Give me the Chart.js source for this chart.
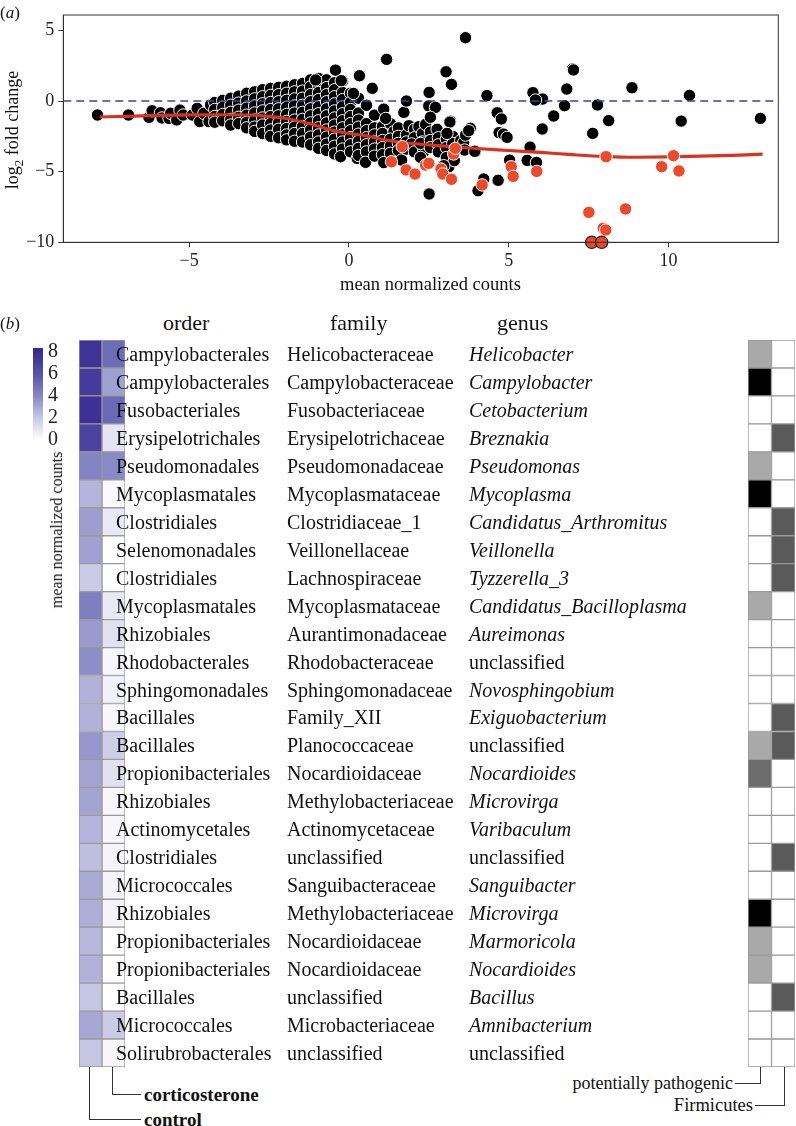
<!DOCTYPE html>
<html>
<head>
<meta charset="utf-8">
<script src="https://cdn.jsdelivr.net/npm/chart.js@4.4.1/dist/chart.umd.min.js"></script>
<style>
  body { margin: 0; background: #fff; font-family: "Liberation Serif", "DejaVu Serif", serif; color: #111; }
  #page { position: relative; width: 796px; height: 1126px; overflow: hidden; }
  canvas { position: absolute; }
  .txt { position: absolute; white-space: nowrap; line-height: 1; transform: translateY(-50%); }
  .cell { font-size: 20px; }
  .hdr { font-size: 22px; }
  .brk { position: absolute; border-color: #333; border-style: solid; border-width: 0; }
</style>
</head>
<body>
<div id="page">
  <canvas id="maChart" width="796" height="300" style="left:0;top:0"></canvas>
  <canvas id="barKey" width="44" height="126" style="left:33px;top:331px"></canvas>
  <canvas id="abundance" width="46" height="727" style="left:79px;top:340px"></canvas>
  <canvas id="traits" width="47" height="727" style="left:748px;top:340px"></canvas>
  <div id="labels"></div>
</div>
<script>
// ---- panel (a): MA plot ----
const xTicks = [-5, 0, 5, 10];
const yTicks = [-10, -5, 0, 5];

// non-significant taxa (log mean counts, log2 fold change)
const greyTaxa = [
  [-7.87,-0.99],[-6.9,-0.99],[-6.26,-1.15],[-6.16,-0.69],[-5.9,-0.83],[-5.85,-1.2],[-5.63,-1.23],[-5.58,-0.87],
  [-5.39,-1.34],[-5.29,-0.64],[-5.19,-0.99],[-4.9,-0.99],[-4.75,-0.52],[-4.67,-1.46],[-4.54,-0.87],[-4.38,-1.46],[-4.33,-0.28],
  [-4.2,-0.1],[-4.2,-0.6],[-4.2,-1.1],[-4.2,-1.5],
  [-3.95,0.05],[-3.95,-0.45],[-3.95,-0.95],[-3.95,-1.4],
  [-3.7,0.2],[-3.7,-0.3],[-3.7,-0.8],[-3.7,-1.3],[-3.7,-1.7],
  [-3.45,0.35],[-3.45,-0.15],[-3.45,-0.65],[-3.45,-1.15],[-3.45,-1.6],
  [-3.2,0.55],[-3.2,0.0],[-3.2,-0.5],[-3.2,-1.0],[-3.2,-1.5],[-3.2,-1.9],
  [-2.95,0.65],[-2.95,0.15],[-2.95,-0.35],[-2.95,-0.85],[-2.95,-1.35],[-2.95,-1.85],[-2.95,-2.15],
  [-2.7,0.8],[-2.7,0.3],[-2.7,-0.2],[-2.7,-0.7],[-2.7,-1.2],[-2.7,-1.7],[-2.7,-2.3],
  [-2.45,0.9],[-2.45,0.4],[-2.45,-0.1],[-2.45,-0.6],[-2.45,-1.1],[-2.45,-1.6],[-2.45,-2.05],[-2.45,-2.5],
  [-2.2,0.97],[-2.2,0.45],[-2.2,-0.05],[-2.2,-0.55],[-2.2,-1.05],[-2.2,-1.55],[-2.2,-2.0],[-2.2,-2.6],
  [-1.95,1.05],[-1.95,0.55],[-1.95,0.05],[-1.95,-0.45],[-1.95,-0.95],[-1.95,-1.45],[-1.95,-1.95],[-1.95,-2.4],[-1.95,-2.75],
  [-1.7,1.15],[-1.7,0.65],[-1.7,0.15],[-1.7,-0.35],[-1.7,-0.85],[-1.7,-1.35],[-1.7,-1.85],[-1.7,-2.3],[-1.7,-2.85],
  [-1.45,1.25],[-1.45,0.7],[-1.45,0.2],[-1.45,-0.3],[-1.45,-0.8],[-1.45,-1.3],[-1.45,-1.8],[-1.45,-2.3],[-1.45,-2.9],
  [-1.2,1.5],[-1.2,1.0],[-1.2,0.45],[-1.2,-0.05],[-1.2,-0.55],[-1.2,-1.05],[-1.2,-1.55],[-1.2,-2.05],[-1.2,-2.55],[-1.2,-3.1],
  [-0.95,1.6],[-0.95,1.1],[-0.95,0.6],[-0.95,0.1],[-0.95,-0.4],[-0.95,-0.9],[-0.95,-1.4],[-0.95,-1.9],[-0.95,-2.4],[-0.95,-2.9],[-0.95,-3.35],
  [-0.7,1.5],[-0.7,0.95],[-0.7,0.45],[-0.7,-0.05],[-0.7,-0.55],[-0.7,-1.05],[-0.7,-1.55],[-0.7,-2.05],[-0.7,-2.55],[-0.7,-3.05],[-0.7,-3.5],
  [-0.45,1.3],[-0.45,0.8],[-0.45,0.3],[-0.45,-0.2],[-0.45,-0.7],[-0.45,-1.2],[-0.45,-1.7],[-0.45,-2.2],[-0.45,-2.7],[-0.45,-3.2],[-0.45,-3.75],
  [-0.2,1.4],[-0.2,0.6],[-0.2,0.1],[-0.2,-0.4],[-0.2,-0.9],[-0.2,-1.4],[-0.2,-1.9],[-0.2,-2.4],[-0.2,-2.9],[-0.2,-3.4],[-0.26,-3.94],
  [0.05,0.55],[0.05,-0.1],[0.05,-0.6],[0.05,-1.1],[0.05,-1.6],[0.05,-2.1],[0.05,-2.6],[0.05,-3.1],[0.05,-3.6],[0.26,-4.06],
  [0.3,0.2],[0.3,-0.85],[0.3,-1.35],[0.3,-1.85],[0.3,-2.35],[0.3,-2.85],[0.3,-3.35],[0.3,-3.85],
  [0.55,-0.3],[0.55,-1.6],[0.55,-2.1],[0.55,-2.6],[0.55,-3.1],[0.55,-3.6],[0.52,-4.34],
  [0.8,-1.0],[0.8,-1.9],[0.8,-2.4],[0.8,-2.9],[0.8,-3.4],[0.8,-3.9],
  [1.05,-1.8],[1.05,-2.3],[1.05,-2.8],[1.05,-3.3],[1.05,-3.8],[1.09,-4.36],
  [1.3,-1.6],[1.41,-2.17],[1.3,-2.7],[1.3,-3.2],[1.3,-3.7],
  [1.55,-1.9],[1.55,-2.5],[1.55,-3.0],[1.55,-3.5],[1.65,-4.18],
  [1.8,-2.4],[1.8,-2.9],[1.8,-3.4],[1.88,-1.75],
  [2.05,-2.0],[2.05,-2.6],[1.96,-3.04],[2.05,-3.6],
  [2.19,-1.82],[2.3,-2.3],[2.3,-2.9],[2.34,-3.58],[2.24,-3.99],[2.24,-3.0],
  [2.4,-1.65],[2.55,-2.2],[2.55,-2.8],[2.55,-3.3],
  [2.76,-2.0],[2.8,-2.6],[2.8,-3.1],[2.8,-3.6],
  [3.05,-2.7],[3.05,-3.3],[3.05,-4.0],[3.25,-2.5],[3.25,-3.0],[3.13,-4.65],[3.5,-2.8],[3.5,-3.4],
  [3.59,-2.95],[3.65,-2.41],[3.62,-3.47],[3.96,-3.58],
  [-0.42,2.19],[0.33,1.79],[-0.24,1.44],[-1.04,1.49],[0.73,0.9],[0.14,0.54],
  [1.09,-0.57],[1.15,-1.23],[1.72,-0.8],[1.8,0.0],[2.5,-0.35],[2.71,-0.45],[2.55,-1.15],[3.18,-1.42],
  [3.65,4.48],[1.18,2.95],[3.04,2.07],[3.21,1.18],[2.51,0.61],[4.32,0.38],[5.76,0.59],[6.06,0.14],[5.84,0.07],
  [7.0,2.27],[7.03,2.2],[6.82,0.85],[6.75,-0.33],[6.41,-1.06],[6.05,-1.98],[7.78,-0.28],[8.13,-1.39],[7.63,-2.29],
  [8.86,0.94],[10.4,-1.42],[10.66,0.4],[12.88,-1.23],[4.64,-0.83],[4.77,-1.27],[4.7,-2.24],[4.84,-2.34],[4.95,-2.57],
  [5.03,-4.18],[5.58,-4.2],[5.87,-4.34],[5.67,-3.26],[4.67,-5.61],[4.04,-6.35],[4.22,-5.52],[2.51,-6.58],
  [3.8,-1.93],[3.75,-2.1],[3.94,-3.56],[3.16,-1.49],[3.07,-2.29],[3.3,-4.22],[2.97,-4.58]
];

// significant taxa
const redTaxa = [
  [1.33,-4.3],[1.67,-3.23],[1.79,-4.88],[2.07,-5.17],[2.4,-4.53],[2.5,-4.41],[2.88,-4.81],[2.94,-5.17],
  [3.21,-5.54],[3.28,-3.75],[3.33,-3.35],[4.17,-5.94],[5.08,-4.65],[5.14,-5.33],[5.88,-4.98],
  [7.51,-7.88],[7.96,-9.01],[8.04,-9.13],[8.66,-7.64],[8.05,-3.94],[9.79,-4.65],[10.16,-3.87],[10.33,-4.95]
];
// significant taxa clipped at the lower limit
const clippedTaxa = [[7.6,-10],[7.91,-10]];

// loess trend
const trendX = [-7.8,-7,-6,-5,-4,-3,-2.5,-2,-1.5,-1,-0.5,0,0.5,1,1.6,2.5,3.2,4,5,6,7,8,9,10,11,12,12.95];
const trendY = [-1.13,-1.08,-1.02,-0.98,-0.97,-1.0,-1.08,-1.22,-1.45,-1.75,-2.08,-2.3,-2.45,-2.7,-2.92,-3.1,-3.23,-3.36,-3.5,-3.64,-3.8,-3.93,-3.98,-3.96,-3.9,-3.84,-3.76];

// ---- panel (b): heatmaps ----
const orders = ['Campylobacterales','Campylobacterales','Fusobacteriales','Erysipelotrichales','Pseudomonadales','Mycoplasmatales','Clostridiales','Selenomonadales','Clostridiales','Mycoplasmatales','Rhizobiales','Rhodobacterales','Sphingomonadales','Bacillales','Bacillales','Propionibacteriales','Rhizobiales','Actinomycetales','Clostridiales','Micrococcales','Rhizobiales','Propionibacteriales','Propionibacteriales','Bacillales','Micrococcales','Solirubrobacterales'];
const families = ['Helicobacteraceae','Campylobacteraceae','Fusobacteriaceae','Erysipelotrichaceae','Pseudomonadaceae','Mycoplasmataceae','Clostridiaceae_1','Veillonellaceae','Lachnospiraceae','Mycoplasmataceae','Aurantimonadaceae','Rhodobacteraceae','Sphingomonadaceae','Family_XII','Planococcaceae','Nocardioidaceae','Methylobacteriaceae','Actinomycetaceae','unclassified','Sanguibacteraceae','Methylobacteriaceae','Nocardioidaceae','Nocardioidaceae','unclassified','Microbacteriaceae','unclassified'];
const genera = ['Helicobacter','Campylobacter','Cetobacterium','Breznakia','Pseudomonas','Mycoplasma','Candidatus_Arthromitus','Veillonella','Tyzzerella_3','Candidatus_Bacilloplasma','Aureimonas','unclassified','Novosphingobium','Exiguobacterium','unclassified','Nocardioides','Microvirga','Varibaculum','unclassified','Sanguibacter','Microvirga','Marmoricola','Nocardioides','Bacillus','Amnibacterium','unclassified'];

const controlCounts = [7.6,7.2,7.7,6.8,4.1,2.6,3.3,3.2,1.9,4.3,3.4,3.8,2.7,2.7,3.5,3.1,3.1,2.6,2.3,2.9,2.8,2.5,2.7,2.1,3.0,2.1];
const corticoCounts = [5.0,3.2,5.1,1.0,3.9,0.2,0.8,0,0,0.8,1.1,0.3,0.5,0.3,1.8,1.1,0.3,0.3,0.4,0.4,0.4,0,0,0,1.9,0.3];
// 0 none, 1..3 increasing pathogenic evidence
const pathogenic = [1,3,0,0,1,3,0,0,0,1,0,0,0,0,1,2,0,0,0,0,3,1,1,0,0,0];
const firmicutes = [0,0,0,1,0,0,1,1,1,0,0,0,0,1,1,0,0,0,1,0,0,0,0,1,0,0];
const keyTicks = [0, 2, 4, 6, 8];

const serif = '"Liberation Serif", serif';
const purpleStops = [[0,[255,255,255]],[2,[200,200,230]],[4,[134,134,196]],[6,[88,82,170]],[8,[58,42,146]]];
const pathoColors = ['#ffffff', '#a9a9a9', '#6c6c6c', '#000000'];
const firmColors = ['#ffffff', '#5a5a5a'];

function purple(v) {
    for (let i = 1; i < purpleStops.length; i++) {
        const [v1, c1] = purpleStops[i];
        const [v0, c0] = purpleStops[i - 1];
        if (v <= v1 || i === purpleStops.length - 1) {
            const t = Math.max(0, Math.min(1, (v - v0) / (v1 - v0)));
            const c = c0.map((ch, k) => Math.round(ch + (c1[k] - ch) * t));
            return `rgb(${c[0]},${c[1]},${c[2]})`;
        }
    }
}

const minus = v => String(v).replace('-', '\u2212');

// frame around the plot area
const framePlugin = {
    id: 'frame',
    afterDraw(chart, args, opts) {
        const { ctx, chartArea: a } = chart;
        ctx.save();
        ctx.strokeStyle = opts.color || '#333';
        ctx.lineWidth = opts.width || 1;
        ctx.strokeRect(a.left, a.top, a.right - a.left, a.bottom - a.top);
        ctx.restore();
    }
};

const toXY = arr => arr.map(p => ({ x: p[0], y: p[1] }));

new Chart(document.getElementById('maChart'), {
    type: 'scatter',
    data: {
        datasets: [
            {
                data: toXY(clippedTaxa),
                backgroundColor: '#e8472c', borderColor: '#222', borderWidth: 1.2,
                pointRadius: 6.2, clip: false
            },
            {
                data: toXY(redTaxa),
                backgroundColor: '#ec4a2c', borderColor: '#ffffff', borderWidth: 1,
                pointRadius: 6.2
            },
            {
                type: 'line',
                data: trendX.map((x, i) => ({ x: x, y: trendY[i] })),
                borderColor: '#d9321f', borderWidth: 3.2, pointRadius: 0,
                tension: 0.4, cubicInterpolationMode: 'monotone', fill: false
            },
            {
                type: 'line',
                data: [{ x: -8.94, y: 0 }, { x: 13.44, y: 0 }],
                borderColor: '#40409a', borderWidth: 1.4, borderDash: [8, 5],
                pointRadius: 0, fill: false
            },
            {
                data: toXY(greyTaxa),
                backgroundColor: '#000000', borderColor: '#ffffff', borderWidth: 1,
                pointRadius: 6.2
            }
        ]
    },
    options: {
        responsive: false,
        animation: false,
        layout: { padding: { top: 15, right: 17.7, left: 0, bottom: 0 } },
        plugins: { legend: { display: false }, tooltip: { enabled: false }, frame: { color: '#333', width: 1 } },
        scales: {
            x: {
                type: 'linear', min: -8.94, max: 13.44,
                afterBuildTicks: s => { s.ticks = xTicks.map(v => ({ value: v })); },
                afterFit: s => { s.height = 57.7; },
                grid: { drawOnChartArea: false, drawTicks: true, tickLength: 5, color: '#333' },
                border: { display: true, color: '#333' },
                ticks: { color: '#222', font: { family: serif, size: 18 }, padding: 3, callback: minus, maxRotation: 0 }
            },
            y: {
                type: 'linear', min: -10, max: 6.09,
                afterBuildTicks: s => { s.ticks = yTicks.map(v => ({ value: v })); },
                afterFit: s => { s.width = 63.3; },
                grid: { drawOnChartArea: false, drawTicks: true, tickLength: 5, color: '#333' },
                border: { display: true, color: '#333' },
                ticks: { color: '#222', font: { family: serif, size: 18 }, padding: 4, callback: minus }
            }
        }
    },
    plugins: [framePlugin]
});

// colour key
new Chart(document.getElementById('barKey'), {
    type: 'bar',
    data: {
        labels: ['key'],
        datasets: [{
            data: [[0, 8.31]],
            barPercentage: 1, categoryPercentage: 1, borderWidth: 0,
            backgroundColor: ctx => {
                const a = ctx.chart.chartArea;
                if (!a) return '#ffffff';
                const g = ctx.chart.ctx.createLinearGradient(0, a.bottom, 0, a.top);
                purpleStops.forEach(([v, c]) => g.addColorStop(Math.min(1, v / 8.31), `rgb(${c[0]},${c[1]},${c[2]})`));
                g.addColorStop(1, purple(8.31));
                return g;
            }
        }]
    },
    options: {
        responsive: false,
        animation: false,
        layout: { padding: { top: 10, bottom: 10.3, left: 0, right: 0 } },
        plugins: { legend: { display: false }, tooltip: { enabled: false } },
        scales: {
            x: { display: false },
            y: {
                position: 'right', min: 0, max: 8.31,
                afterBuildTicks: s => { s.ticks = keyTicks.map(v => ({ value: v })); },
                afterFit: s => { s.width = 34; },
                grid: { display: false, drawTicks: false }, border: { display: false },
                ticks: { color: '#222', font: { family: serif, size: 20 }, padding: 5, autoSkip: false }
            }
        }
    }
});

function heatmap(canvasId, columns) {
    return new Chart(document.getElementById(canvasId), {
        type: 'bar',
        data: {
            labels: genera,
            datasets: columns.map((col, k) => ({
                data: col.values.map(() => [k, k + 1]),
                backgroundColor: col.values.map(col.color),
                borderColor: '#9a9a9a', borderWidth: 1, borderSkipped: false,
                barPercentage: 1, categoryPercentage: 1, grouped: false
            }))
        },
        options: {
            indexAxis: 'y',
            responsive: false,
            animation: false,
            layout: { padding: 0 },
            plugins: { legend: { display: false }, tooltip: { enabled: false } },
            scales: {
                x: { display: false, min: 0, max: columns.length },
                y: { display: false }
            }
        }
    });
}

heatmap('abundance', [
    { values: controlCounts, color: purple },
    { values: corticoCounts, color: purple }
]);
heatmap('traits', [
    { values: pathogenic, color: v => pathoColors[v] },
    { values: firmicutes, color: v => firmColors[v] }
]);

// ---- text ----
const rowTop = 340, rowH = 727 / genera.length;
const labels = document.getElementById('labels');
function addText(html, left, cy, cls, extra) {
    const d = document.createElement('div');
    d.className = 'txt ' + (cls || '');
    d.innerHTML = html;
    d.style.left = left + 'px';
    d.style.top = cy + 'px';
    if (extra) Object.assign(d.style, extra);
    labels.appendChild(d);
    return d;
}
function addBracket(left, top, width, height, sides) {
    const d = document.createElement('div');
    d.className = 'brk';
    Object.assign(d.style, { left: left + 'px', top: top + 'px', width: width + 'px', height: height + 'px' });
    sides.forEach(s => { d.style['border' + s + 'Width'] = '1px'; });
    labels.appendChild(d);
}

addText('(<i>a</i>)', 0, 12, '', { fontSize: '17px' });
addText('(<i>b</i>)', 0, 323, '', { fontSize: '17px' });
addText('mean normalized counts', 340, 284, '', { fontSize: '18.5px' });
addText('log<sub style="font-size:13px">2</sub> fold change', 14, 130, '',
    { fontSize: '18px', transform: 'translate(-50%,-50%) rotate(-90deg)' });
addText('mean normalized counts', 57, 530, '',
    { fontSize: '16px', transform: 'translate(-50%,-50%) rotate(-90deg)' });

addText('order', 163, 323, 'hdr');
addText('family', 330, 323, 'hdr');
addText('genus', 497, 323, 'hdr');

genera.forEach((g, i) => {
    const cy = rowTop + rowH * (i + 0.5);
    addText(orders[i], 116, cy, 'cell');
    addText(families[i], 287, cy, 'cell');
    addText(g, 469, cy, 'cell', g === 'unclassified' ? {} : { fontStyle: 'italic' });
});

addBracket(112, 1067, 28, 27, ['Left', 'Bottom']);
addBracket(89, 1067, 51, 52, ['Left', 'Bottom']);
addText('<b>corticosterone</b>', 144, 1094, '', { fontSize: '19px' });
addText('<b>control</b>', 144, 1119, '', { fontSize: '19px' });

addBracket(735, 1067, 25, 16, ['Right', 'Bottom']);
addBracket(755, 1067, 29, 38, ['Right', 'Bottom']);
addText('potentially pathogenic', 733, 1083, '', { fontSize: '18px', transform: 'translate(-100%,-50%)' });
addText('Firmicutes', 753, 1105, '', { fontSize: '18.5px', transform: 'translate(-100%,-50%)' });
</script>
</body>
</html>
